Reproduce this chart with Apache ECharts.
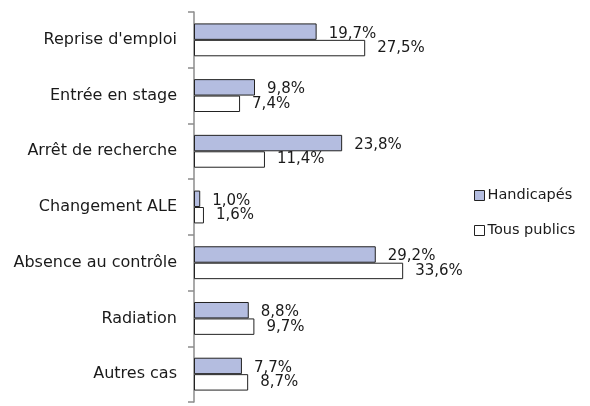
<!DOCTYPE html>
<html>
<head>
<meta charset="utf-8">
<script src="https://cdn.jsdelivr.net/npm/echarts@6/dist/echarts.min.js"></script>
<style>
  html, body { margin: 0; padding: 0; background: #fff; }
  #chart { width: 590px; height: 406px; }
</style>
</head>
<body>
<div id="chart"></div>
<script>
const categories = ['Reprise d\'emploi', 'Entrée en stage', 'Arrêt de recherche', 'Changement ALE', 'Absence au contrôle', 'Radiation', 'Autres cas'];
const handicapes = [19.7, 9.8, 23.8, 1.0, 29.2, 8.8, 7.7];
const tousPublics = [27.5, 7.4, 11.4, 1.6, 33.6, 9.7, 8.7];

const font = 'DejaVu Sans';
const ink = '#1a1a1a';
const pct = p => p.value.toFixed(1).replace('.', ',') + '%';

const chart = echarts.init(document.getElementById('chart'));
chart.setOption({
    animation: false,
    textStyle: { fontFamily: font },
    grid: {
        left: 194,
        right: 147,
        top: 12,
        bottom: 4
    },
    legend: {
        orient: 'vertical',
        left: 474,
        top: 188,
        padding: 0,
        itemGap: 20,
        itemWidth: 10,
        itemHeight: 10,
        icon: 'rect',
        itemStyle: { borderWidth: 1 },
        textStyle: { color: ink, fontSize: 14.5, fontFamily: font, padding: [0, 0, 0, -2] }
    },
    xAxis: {
        type: 'value',
        min: 0,
        max: 40,
        show: false
    },
    yAxis: {
        type: 'category',
        inverse: true,
        data: categories,
        axisLine: { show: true, lineStyle: { color: '#8c8c8c', width: 1.5 } },
        axisTick: { show: true, length: 6, lineStyle: { color: '#8c8c8c', width: 1.5 } },
        axisLabel: { color: ink, fontSize: 16, margin: 17, fontFamily: font }
    },
    series: [
        {
            name: 'Handicapés',
            type: 'bar',
            data: handicapes,
            barGap: '0%',
            barCategoryGap: '41%',
            itemStyle: { color: '#b4bde0', borderColor: '#222', borderWidth: 1 },
            label: { show: true, position: 'right', distance: 12, offset: [0, 2], color: ink, fontSize: 15, fontFamily: font, formatter: pct }
        },
        {
            name: 'Tous publics',
            type: 'bar',
            data: tousPublics,
            itemStyle: { color: '#fff', borderColor: '#222', borderWidth: 1 },
            label: { show: true, position: 'right', distance: 12, color: ink, fontSize: 15, fontFamily: font, formatter: pct }
        }
    ]
});
</script>
</body>
</html>
